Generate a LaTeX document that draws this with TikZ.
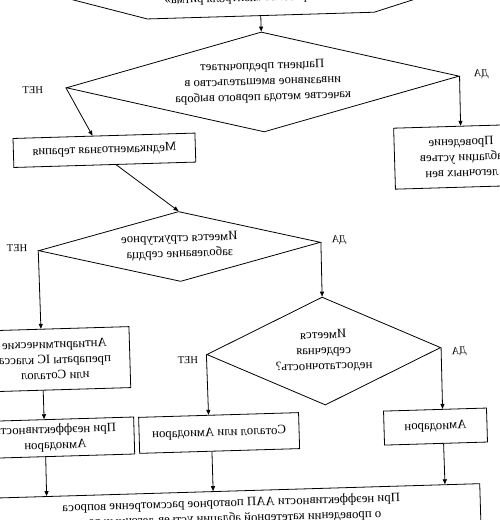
\documentclass[tikz,border=0pt]{standalone}
\usepackage{fontspec}
\setmainfont{Liberation Serif}
\usetikzlibrary{shapes.geometric,arrows.meta,calc}
\begin{document}
\begin{tikzpicture}[x=1pt,y=-1pt,
  every node/.style={font=\fontsize{12.8}{15.5}\selectfont, align=center},
  box/.style={draw, line width=0.8pt, rectangle, inner sep=0pt},
  dec/.style={draw, line width=0.8pt, diamond, inner sep=0pt},
  lbl/.style={font=\fontsize{10.5}{12}\selectfont},
  conn/.style={line width=0.8pt, -{Triangle[length=5pt,width=4pt]}},
  outline/.style={line width=0.8pt}
]
\useasboundingbox (0,0) rectangle (500,520);
\clip (0,0) rectangle (500,520);
\begin{scope}[rotate around={1.7:(250pt,-260pt)}, xshift=500pt, xscale=-1, transform shape]
% top hexagon
\draw[outline] (487.5,-25) -- (345.5,16) -- (118.5,16) -- (-23.5,-25) -- (118.5,-66) -- (345.5,-66) -- cycle;
\node[anchor=base] (hx) at (249.5,1.5) {Стратегия «контроля ритма»};
\coordinate (hxb) at (232,16);
% decisions and boxes
\node[dec, minimum width=393pt, minimum height=100pt, shape aspect=3.93] (d1) at (232,82.4)
  {Пациент предпочитает\\инвазивное вмешательство в\\качестве метода первого выбора};
\node[box, minimum width=134pt, minimum height=61pt] (prov) at (35.5,163)
  {Проведение\\аблации устьев\\легочных вен};
\node[box, minimum width=182pt, minimum height=29pt] (med) at (392.3,146) {Медикаментозная терапия};
\node[dec, minimum width=282pt, minimum height=70pt, shape aspect=4.03] (d2) at (320,244.4)
  {Имеется структурное\\заболевание сердца};
\node[box, minimum width=150pt, minimum height=61pt] (anti) at (448,353.5)
  {Антиаритмические\\препараты IC класса\\или Соталол};
\node[box, minimum width=158pt, minimum height=37pt] (prin) at (450,432)
  {При неэффективности\\Амиодарон};
\node[dec, minimum width=234pt, minimum height=108pt, shape aspect=2.17] (d3) at (179,353.2)
  {Имеется\\сердечная\\недостаточность?};
\node[box, minimum width=160pt, minimum height=36pt] (sot) at (286,432) {Соталол или Амиодарон};
\node[box, minimum width=103pt, minimum height=34pt] (amio) at (69.5,432) {Амиодарон};
\node[box, minimum width=498pt, minimum height=40pt, anchor=north] (fin) at (276,490)
  {При неэффективности ААП повторное рассмотрение вопроса\\о проведении катетерной аблации устьев легочных вен};
% labels
\node[lbl] (n1) at (462,84) {НЕТ};
\node[lbl] (y1) at (13.5,81) {ДА};
\node[lbl] (n2) at (482.4,241) {НЕТ};
\node[lbl] (y2) at (160.4,242.6) {ДА};
\node[lbl] (n3) at (315,358) {НЕТ};
\node[lbl] (y3) at (43.7,358) {ДА};
% connectors
\draw[conn] (hxb) -- (d1.north);
\draw[conn] (d1.east) -- ($(med.north)!0.125!(med.north east)$);
\draw[conn] (d1.west) -- (prov.north);
\draw[conn] ($(med.south)!0.125!(med.south west)$) -- (d2.north);
\draw[conn] (d2.east) -- ($(anti.north)!0.173!(anti.north east)$);
\draw[conn] ($(anti.south)!0.167!(anti.south east)$) -- ($(prin.north)!0.133!(prin.north east)$);
\draw[conn] ($(prin.south)!0.127!(prin.south east)$) -- ($(fin.north)!0.739!(fin.north east)$);
\draw[conn] (d2.west) -- (d3.north);
\draw[conn] (d3.east) -- ($(sot.north)!0.125!(sot.north east)$);
\draw[conn] (d3.west) -- ($(amio.north)!0.146!(amio.north west)$);
\draw[conn] ($(sot.south)!0.096!(sot.south east)$) -- ($(fin.north)!0.071!(fin.north east)$);
\draw[conn] ($(amio.south)!0.146!(amio.south west)$) -- ($(fin.north)!0.859!(fin.north west)$);
\end{scope}
\end{tikzpicture}
\end{document}
